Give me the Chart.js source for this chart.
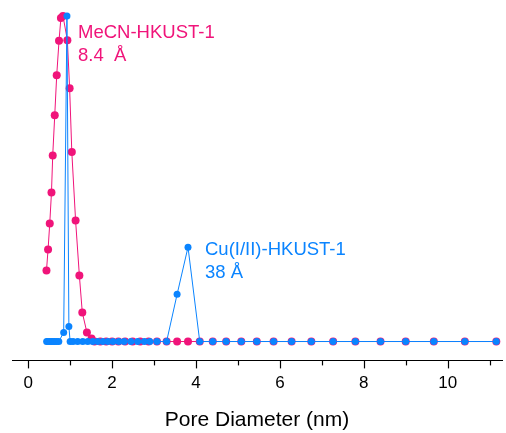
<!DOCTYPE html>
<html>
<head>
<meta charset="utf-8">
<script src="https://cdn.jsdelivr.net/npm/chart.js@4/dist/chart.umd.min.js"></script>
<style>
  body { margin: 0; background: #fff; }
  #wrap { width: 506px; height: 433px; }
</style>
</head>
<body>
<div id="wrap"><canvas id="mycanvas" width="506" height="433"></canvas></div>
<script>
// pore diameter (nm) and normalised distribution
var mecnX = [0.436, 0.474, 0.514, 0.555, 0.585, 0.633, 0.68, 0.735, 0.78, 0.83, 0.934, 0.988, 1.04, 1.13, 1.22, 1.29, 1.40, 1.51,
             1.58, 1.72, 1.86, 2.0, 2.15, 2.31, 2.49, 2.67, 2.87, 3.07, 3.30, 3.55, 3.81, 4.09, 4.40, 4.72, 5.08, 5.45, 5.85,
             6.28, 6.75, 7.27, 7.80, 8.40, 9.00, 9.67, 10.41, 11.16];
var mecnY = [0.218, 0.283, 0.363, 0.458, 0.572, 0.695, 0.818, 0.924, 0.994, 1.0, 0.926, 0.778, 0.582, 0.372, 0.203, 0.089, 0.028, 0.009,
             0, 0, 0, 0, 0, 0, 0, 0, 0, 0, 0, 0, 0, 0, 0, 0, 0, 0, 0,
             0, 0, 0, 0, 0, 0, 0, 0, 0];

var cuX = [0.44, 0.47, 0.51, 0.55, 0.59, 0.63, 0.68, 0.73, 0.846, 0.924, 0.97,
           1.0, 1.07, 1.18, 1.30, 1.42, 1.54, 1.66, 1.78, 1.90, 2.02, 2.16, 2.29, 2.45, 2.61, 2.77, 2.90, 3.07, 3.30,
           3.55, 3.81, 4.09, 4.40, 4.72, 5.08, 5.45, 5.85, 6.28, 6.75, 7.27, 7.80, 8.40, 9.00, 9.67, 10.41, 11.16];
var cuY = [0, 0, 0, 0, 0, 0, 0, 0, 0.028, 1.0, 0.046,
           0, 0, 0, 0, 0, 0, 0, 0, 0, 0, 0, 0, 0, 0, 0, 0, 0, 0,
           0.145, 0.29, 0, 0, 0, 0, 0, 0, 0, 0, 0, 0, 0, 0, 0, 0, 0];

var xTicks = [0, 2, 4, 6, 8, 10];
var xMinor = [1, 3, 5, 7, 9, 11];

var pink = '#f0147a';
var blue = '#0a84ff';
var fontFam = "'Liberation Sans', Arial, sans-serif";

function pts(xs, ys) {
    var out = [];
    for (var i in xs) {
        out.push({x: xs[i], y: ys[i]});
    }
    return out;
}

// tick marks (major + minor) and peak labels
var extras = {
    id: 'extras',
    afterDraw: function(chart) {
        var ctx = chart.ctx;
        var xs = chart.scales.x;
        var top = xs.top;
        ctx.save();
        ctx.strokeStyle = '#000';
        ctx.lineWidth = 1.2;
        function tick(v, len) {
            var px = Math.round(xs.getPixelForValue(v)) + 0.5;
            ctx.beginPath();
            ctx.moveTo(px, top);
            ctx.lineTo(px, top + len);
            ctx.stroke();
        }
        xTicks.forEach(function(v) { tick(v, 8); });
        xMinor.forEach(function(v) { tick(v, 5); });

        ctx.font = '18.5px ' + fontFam;
        ctx.textBaseline = 'middle';
        ctx.fillStyle = pink;
        ctx.fillText('MeCN-HKUST-1', 78, 33);
        ctx.fillText('8.4  \u00C5', 78, 56);
        ctx.fillStyle = blue;
        ctx.fillText('Cu(I/II)-HKUST-1', 205, 250);
        ctx.fillText('38 \u00C5', 205, 273);
        ctx.restore();
    }
};

var chart = new Chart(document.getElementById('mycanvas'), {
    type: 'line',
    data: {
        datasets: [
            {
                label: 'Cu(I/II)-HKUST-1',
                data: pts(cuX, cuY),
                borderColor: blue,
                backgroundColor: blue,
                borderWidth: 1,
                pointRadius: 3.5,
                pointBorderWidth: 0,
                order: 0,
                clip: false
            },
            {
                label: 'MeCN-HKUST-1',
                data: pts(mecnX, mecnY),
                borderColor: pink,
                backgroundColor: pink,
                borderWidth: 1,
                pointRadius: 4,
                pointBorderWidth: 0,
                order: 1,
                clip: false
            }
        ]
    },
    options: {
        responsive: false,
        animation: false,
        devicePixelRatio: 1,
        layout: { padding: { left: 12, right: 1, top: 6, bottom: 0 } },
        plugins: { legend: { display: false }, tooltip: { enabled: false } },
        scales: {
            x: {
                type: 'linear',
                min: -0.386,
                max: 11.296,
                afterBuildTicks: function(scale) {
                    scale.ticks = xTicks.map(function(v) { return {value: v}; });
                },
                grid: { drawOnChartArea: false, drawTicks: false, tickLength: 8 },
                border: { color: '#000', width: 1 },
                ticks: { color: '#000', padding: 13, maxRotation: 0, font: { family: fontFam, size: 17 } },
                title: {
                    display: true,
                    text: 'Pore Diameter (nm)',
                    color: '#000',
                    padding: { top: 1, bottom: 0 },
                    font: { family: fontFam, size: 21 }
                }
            },
            y: { display: false, min: -0.058, max: 1.031 }
        }
    },
    plugins: [extras]
});
</script>
</body>
</html>
